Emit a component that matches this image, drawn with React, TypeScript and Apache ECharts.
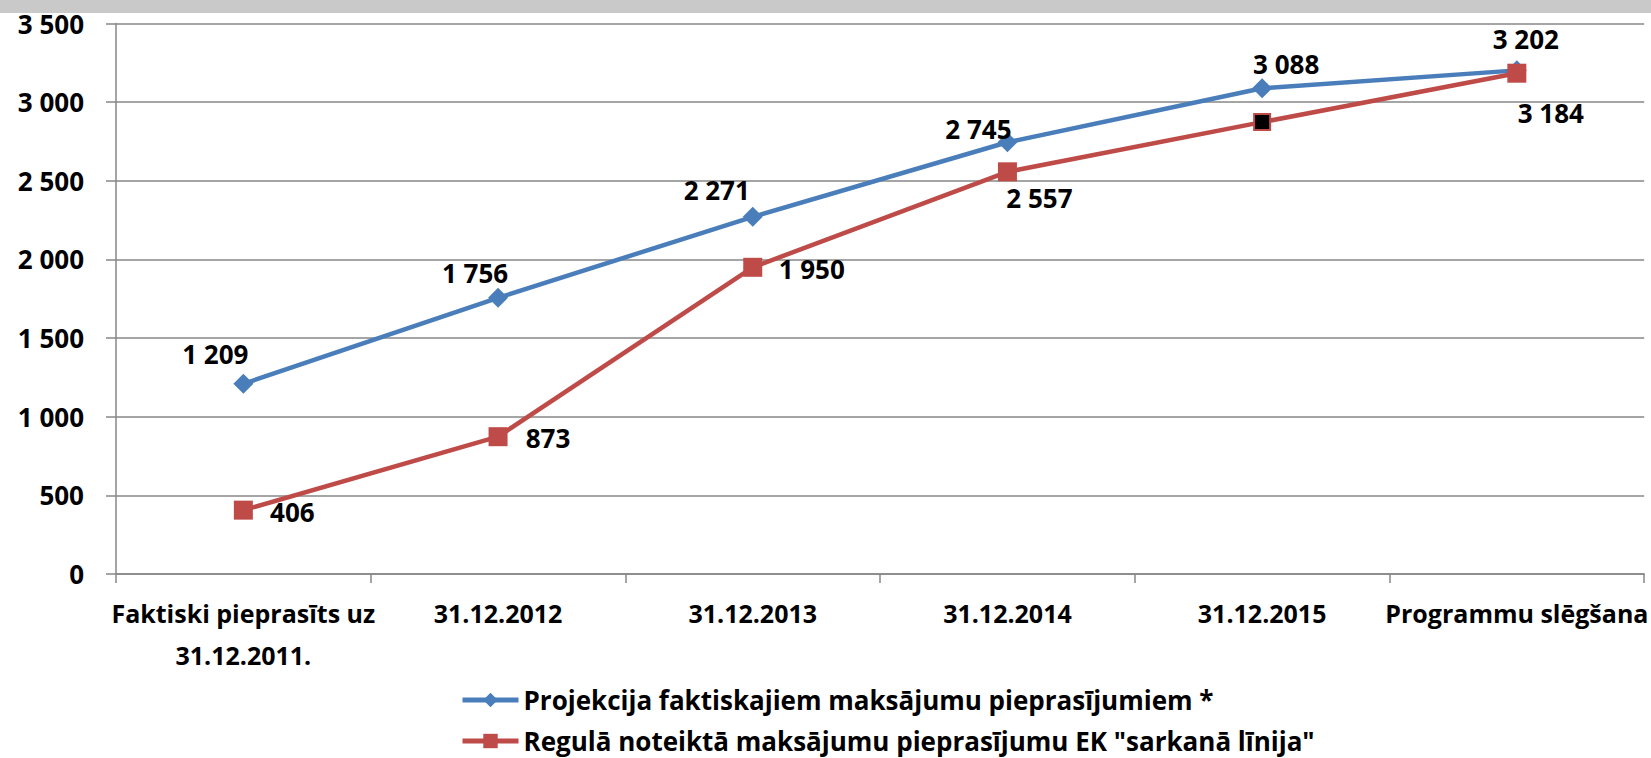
import React, { useEffect, useRef } from "react";
import * as echarts from "echarts";

const categories = [
  "Faktiski pieprasīts uz\n31.12.2011.",
  "31.12.2012",
  "31.12.2013",
  "31.12.2014",
  "31.12.2015",
  "Programmu slēgšana",
];
const seriesNames = [
  "Projekcija faktiskajiem maksājumu pieprasījumiem *",
  'Regulā noteiktā maksājumu pieprasījumu EK "sarkanā līnija"',
];
const projection = [1209, 1756, 2271, 2745, 3088, 3202];
const redLine = [406, 873, 1950, 2557, 2873, 3184];
const redLabelShown = [true, true, true, true, false, true];
const redHighlighted = [false, false, false, false, true, false];

// label placement offsets (style only)
const blueOffsets = [[-28, -30], [-23, -25], [-36, -27], [-29, -13], [24, -24], [9, -31]];
const redOffsets = [[49, 2], [50, 1], [59, 2], [32, 26], [0, 0], [34, 40]];

const FONT = '"Open Sans", "Noto Sans", sans-serif';
const BLUE = "#4a7ebb";
const RED = "#be4b48";
const GRID = "#878787";

const fmt = (v: number) => {
  const s = Math.round(v).toString();
  return s.replace(/\B(?=(\d{3})+(?!\d))/g, " ");
};

export default function App() {
  const ref = useRef<HTMLDivElement>(null);
  useEffect(() => {
    if (!ref.current) return;
    const chart = echarts.init(ref.current, null, { renderer: "svg" });
    const labelBase = {
      show: true,
      position: "inside",
      color: "#000",
      fontFamily: FONT,
      fontWeight: "bold",
      fontSize: 26,
      formatter: (p: any) => fmt(p.value),
    };
    const legendBase = {
      orient: "vertical",
      left: 460,
      padding: 0,
      itemWidth: 56,
      itemHeight: 18,
      lineStyle: { width: 5 },
      textStyle: {
        fontFamily: FONT,
        fontWeight: "bold",
        fontSize: 26,
        color: "#000",
        lineHeight: 28,
      },
    };
    chart.setOption({
      animation: false,
      backgroundColor: "#fff",
      graphic: [
        {
          type: "rect",
          left: 0,
          top: 0,
          shape: { width: 1651, height: 13 },
          style: { fill: "#c9c9c9" },
          silent: true,
        },
      ],
      grid: { left: 116, right: 2, top: 23.5, bottom: 184, containLabel: false },
      legend: [
        { ...legendBase, top: 686, data: [seriesNames[0]] },
        { ...legendBase, top: 727, data: [seriesNames[1]] },
      ],
      xAxis: {
        type: "category",
        data: categories,
        boundaryGap: true,
        axisLine: { lineStyle: { color: GRID, width: 1.5 } },
        axisTick: { show: true, length: 9, lineStyle: { color: GRID, width: 1.5 } },
        axisLabel: {
          interval: 0,
          margin: 18,
          color: "#000",
          fontFamily: FONT,
          fontWeight: "bold",
          fontSize: 25,
          lineHeight: 42,
        },
      },
      yAxis: {
        type: "value",
        min: 0,
        max: 3500,
        interval: 500,
        axisLine: { show: true, lineStyle: { color: GRID, width: 1.5 } },
        axisTick: { show: true, length: 10, lineStyle: { color: GRID, width: 1.5 } },
        splitLine: { show: true, lineStyle: { color: GRID, width: 1.5 } },
        axisLabel: {
          margin: 32,
          color: "#000",
          fontFamily: FONT,
          fontWeight: "bold",
          fontSize: 26,
          formatter: (v: number) => fmt(v),
        },
      },
      series: [
        {
          name: seriesNames[0],
          type: "line",
          symbol: "diamond",
          symbolSize: 20,
          lineStyle: { color: BLUE, width: 4.5 },
          itemStyle: { color: BLUE },
          label: labelBase,
          data: projection.map((v, i) => ({
            value: v,
            label: { offset: blueOffsets[i] },
          })),
          z: 3,
        },
        {
          name: seriesNames[1],
          type: "line",
          symbol: "rect",
          symbolSize: 19,
          lineStyle: { color: RED, width: 4.5 },
          itemStyle: { color: RED },
          label: labelBase,
          data: redLine.map((v, i) => ({
            value: v,
            label: { show: redLabelShown[i], offset: redOffsets[i] },
            itemStyle: redHighlighted[i]
              ? { color: "#000", borderColor: RED, borderWidth: 2 }
              : undefined,
            symbolSize: redHighlighted[i] ? 16 : 19,
          })),
          z: 4,
        },
      ],
    });
    return () => chart.dispose();
  }, []);
  return (
    <div
      ref={ref}
      style={{ position: "fixed", left: 0, top: 0, width: 1651, height: 758 }}
    />
  );
}
